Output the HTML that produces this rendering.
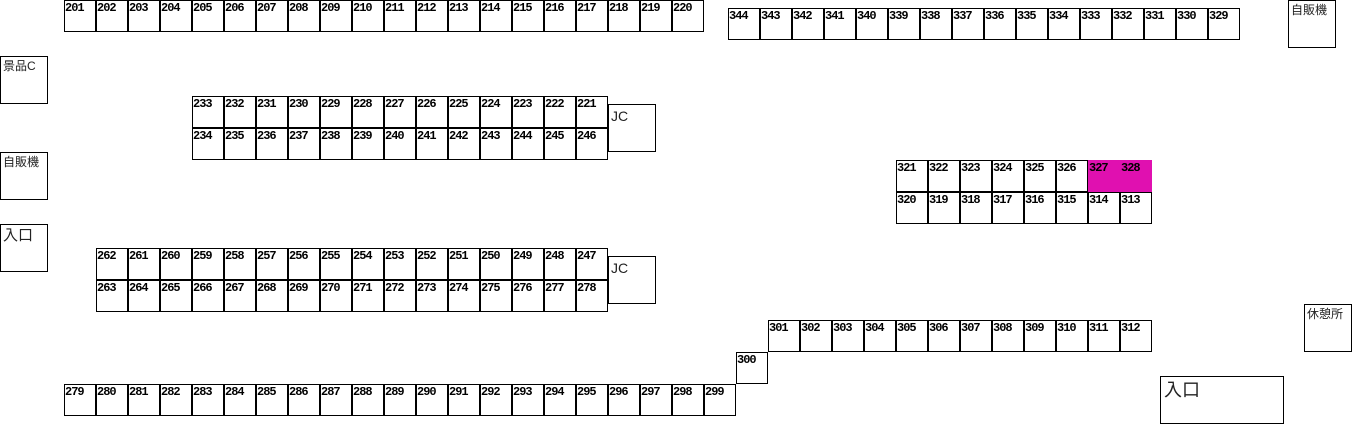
<!DOCTYPE html>
<html><head><meta charset="utf-8"><style>
html,body{margin:0;padding:0;background:#fff;width:1358px;height:427px;overflow:hidden;position:relative}
.r{position:absolute;display:flex}
.r div{box-sizing:border-box;width:32px;height:32px;border:1px solid #000;font:bold 12px "Liberation Mono",monospace;line-height:12px;padding:1px 0 0 0;color:#000;letter-spacing:-1px}
.r div.m{background:#e010b0;border-color:#e010b0}
.b{position:absolute;box-sizing:border-box;width:48px;height:48px;border:1px solid #000;font:12px "Liberation Sans","Noto Sans CJK JP",sans-serif;line-height:16px;padding:1px 0 0 2px;color:#222}
</style></head><body>
<div class="r" style="left:64px;top:0"><div>201</div><div>202</div><div>203</div><div>204</div><div>205</div><div>206</div><div>207</div><div>208</div><div>209</div><div>210</div><div>211</div><div>212</div><div>213</div><div>214</div><div>215</div><div>216</div><div>217</div><div>218</div><div>219</div><div>220</div></div>
<div class="r" style="left:728px;top:8px"><div>344</div><div>343</div><div>342</div><div>341</div><div>340</div><div>339</div><div>338</div><div>337</div><div>336</div><div>335</div><div>334</div><div>333</div><div>332</div><div>331</div><div>330</div><div>329</div></div>
<div class="r" style="left:192px;top:96px"><div>233</div><div>232</div><div>231</div><div>230</div><div>229</div><div>228</div><div>227</div><div>226</div><div>225</div><div>224</div><div>223</div><div>222</div><div>221</div></div>
<div class="r" style="left:192px;top:128px"><div>234</div><div>235</div><div>236</div><div>237</div><div>238</div><div>239</div><div>240</div><div>241</div><div>242</div><div>243</div><div>244</div><div>245</div><div>246</div></div>
<div class="r" style="left:896px;top:160px"><div>321</div><div>322</div><div>323</div><div>324</div><div>325</div><div>326</div><div class="m">327</div><div class="m">328</div></div>
<div class="r" style="left:896px;top:192px"><div>320</div><div>319</div><div>318</div><div>317</div><div>316</div><div>315</div><div>314</div><div>313</div></div>
<div class="r" style="left:96px;top:248px"><div>262</div><div>261</div><div>260</div><div>259</div><div>258</div><div>257</div><div>256</div><div>255</div><div>254</div><div>253</div><div>252</div><div>251</div><div>250</div><div>249</div><div>248</div><div>247</div></div>
<div class="r" style="left:96px;top:280px"><div>263</div><div>264</div><div>265</div><div>266</div><div>267</div><div>268</div><div>269</div><div>270</div><div>271</div><div>272</div><div>273</div><div>274</div><div>275</div><div>276</div><div>277</div><div>278</div></div>
<div class="r" style="left:768px;top:320px"><div>301</div><div>302</div><div>303</div><div>304</div><div>305</div><div>306</div><div>307</div><div>308</div><div>309</div><div>310</div><div>311</div><div>312</div></div>
<div class="r" style="left:736px;top:352px"><div>300</div></div>
<div class="r" style="left:64px;top:384px"><div>279</div><div>280</div><div>281</div><div>282</div><div>283</div><div>284</div><div>285</div><div>286</div><div>287</div><div>288</div><div>289</div><div>290</div><div>291</div><div>292</div><div>293</div><div>294</div><div>295</div><div>296</div><div>297</div><div>298</div><div>299</div></div>
<div class="b" style="left:0;top:56px">景品C</div>
<div class="b" style="left:0;top:152px">自販機</div>
<div class="b" style="left:0;top:224px;font-size:15px;line-height:20px">入口</div>
<div class="b" style="left:1288px;top:0">自販機</div>
<div class="b" style="left:1304px;top:304px">休憩所</div>
<div class="b" style="left:608px;top:104px;font-size:14px;line-height:20px">JC</div>
<div class="b" style="left:608px;top:256px;font-size:14px;line-height:20px">JC</div>
<div class="b" style="left:1160px;top:376px;width:124px;height:48px;font-size:18px;line-height:24px;padding-left:3px">入口</div>
</body></html>
